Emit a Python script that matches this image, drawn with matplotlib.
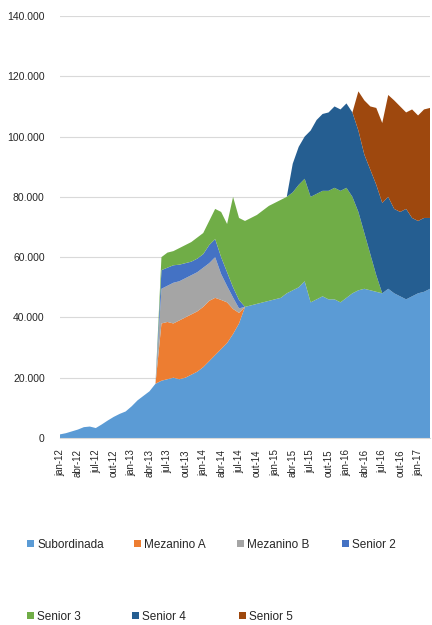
import numpy as np
import matplotlib
matplotlib.use("Agg")
import matplotlib.pyplot as plt

months_pt = ["jan", "fev", "mar", "abr", "mai", "jun", "jul", "ago", "set", "out", "nov", "dez"]
periods = [f"{months_pt[m]}-{str(y)[2:]}" for y in range(2012, 2018) for m in range(12)][:63]

subordinada = [1.2, 1.6, 2.2, 2.8, 3.6, 3.8, 3.3, 4.5, 5.8, 7.0, 8.0, 8.8, 10.5, 12.5, 14.0, 15.5, 18.0,
               19.0, 19.5, 20.0, 19.5, 20.0, 21.0, 22.0, 23.5, 25.5, 27.5, 29.5, 31.5, 34.5, 38.0,
               43.5, 44.0, 44.5, 45.0, 45.5, 46.0, 46.5, 48.0, 49.0, 50.0, 52.0, 45.0, 46.0, 47.0,
               46.0, 46.0, 45.0, 46.5, 48.0, 49.0, 49.5, 49.0, 48.5, 48.0, 49.5, 48.0, 47.0, 46.0,
               47.0, 48.0, 48.5, 49.5]
mezanino_a = [0] * 17 + [19.0, 19.0, 18.0, 19.5, 20.0, 20.0, 20.0, 20.0, 20.0, 19.0, 16.3, 13.5, 8.3, 3.5] + [0] * 32
mezanino_b = [0] * 17 + [11.5, 12.0, 13.5, 13.0, 13.0, 13.0, 13.0, 13.0, 12.5, 13.5, 8.6, 5.4, 3.8, 1.5] + [0] * 32
senior_2 = [0] * 17 + [6.2, 6.0, 5.8, 5.5, 5.0, 4.5, 4.5, 4.5, 6.0, 6.0, 5.6, 4.6, 3.4, 2.8] + [0] * 32
senior_3 = [0] * 17 + [4.3, 5.0, 4.7, 5.5, 6.0, 6.5, 7.0, 7.0, 8.0, 10.0, 15.0, 16.0, 30.0, 27.2,
                       28.5, 29.0, 29.5, 30.5, 31.5, 32.0, 32.5, 32.0, 32.5, 34.0, 34.0, 35.0, 35.0,
                       35.0, 36.0, 37.0, 37.0, 36.5, 32.0, 26.0, 18.5, 12.0, 5.5] + [0] * 9
senior_4 = [0] * 39 + [9.5, 12.6, 14.0, 22.0, 24.5, 25.5, 26.0, 27.0, 27.0, 28.0, 28.0, 27.0, 26.0,
                       28.0, 30.0, 30.0, 30.5, 28.0, 28.0, 30.0, 26.0, 24.0, 24.5, 23.5]
senior_5 = [0] * 50 + [13.0, 18.0, 21.0, 25.5, 26.5, 33.8, 36.0, 35.0, 32.0, 36.0, 35.0, 36.0, 36.5]

series_names = ["Subordinada", "Mezanino A", "Mezanino B", "Senior 2", "Senior 3", "Senior 4", "Senior 5"]
colors = ["#5B9BD5", "#ED7D31", "#A5A5A5", "#4472C4", "#70AD47", "#255E91", "#9E480E"]

data = [subordinada, mezanino_a, mezanino_b, senior_2, senior_3, senior_4, senior_5]
data = [np.array(s) * 1000 for s in data]
x = np.arange(len(periods))

plt.rcParams['font.family'] = ['Liberation Sans', 'DejaVu Sans']
fig = plt.figure(figsize=(4.32, 6.25), dpi=100)
ax = fig.add_axes([60 / 432, 1 - 438 / 625, 370 / 432, 422 / 625])

polys = ax.stackplot(x, *data, colors=colors, labels=series_names, linewidth=0)

ax.set_xlim(0, len(periods) - 1)
ax.set_ylim(0, 140000)
yt = np.arange(0, 140001, 20000)
ax.set_yticks(yt)
ax.set_yticklabels([f"{int(v):,}".replace(",", ".") for v in yt], fontsize=7.5, color="#262626")
ax.yaxis.grid(True, color="#D9D9D9", linewidth=0.8)
ax.set_axisbelow(True)
xt = x[::3]
ax.set_xticks(xt)
ax.set_xticklabels([periods[i] for i in xt], rotation=90, fontsize=7, color="#262626")
ax.tick_params(axis="y", length=0, pad=11)
ax.tick_params(axis="x", length=0, pad=8)
for s in ["top", "right", "left"]:
    ax.spines[s].set_visible(False)
ax.spines["bottom"].set_color("#D9D9D9")

positions = [(30, 545), (137, 545), (240, 545), (345, 545), (30, 617), (135, 617), (242, 617)]
for p, (px, py) in zip(polys, positions):
    fig.legend([p], [p.get_label()], loc="center left", bbox_to_anchor=(px / 432 - 0.006, 1 - py / 625),
               frameon=False, fontsize=8.5, handlelength=0.55, handleheight=0.55, handletextpad=0.3,
               borderpad=0, borderaxespad=0, labelcolor="#262626")

fig.savefig("out.png", dpi=100)
